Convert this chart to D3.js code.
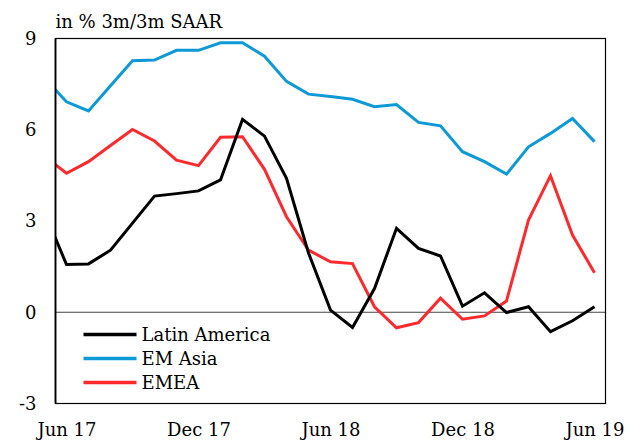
<!DOCTYPE html>
<html>
<head>
<meta charset="utf-8">
<script src="https://cdn.jsdelivr.net/npm/d3@7"></script>
<style>
  body { margin: 0; background: #fff; }
  svg text { font-family: 'DejaVu Serif', Georgia, serif; }
</style>
</head>
<body>
<div id="chart"></div>
<script>
// 月次データ (May 17 は左端で切れる分)
var months = ['May 17', 'Jun 17', 'Jul 17', 'Aug 17', 'Sep 17', 'Oct 17', 'Nov 17', 'Dec 17',
  'Jan 18', 'Feb 18', 'Mar 18', 'Apr 18', 'May 18', 'Jun 18', 'Jul 18', 'Aug 18', 'Sep 18',
  'Oct 18', 'Nov 18', 'Dec 18', 'Jan 19', 'Feb 19', 'Mar 19', 'Apr 19', 'May 19', 'Jun 19']

var latinAmerica = [3.29, 1.57, 1.59, 2.04, 2.93, 3.82, 3.9, 3.99, 4.35, 6.34, 5.79, 4.4, 1.95,
  0.07, -0.5, 0.78, 2.76, 2.1, 1.85, 0.2, 0.64, -0.01, 0.18, -0.64, -0.28, 0.18]
var emAsia = [7.7, 6.92, 6.62, 7.45, 8.27, 8.29, 8.61, 8.61, 8.86, 8.86, 8.42, 7.59, 7.17,
  7.09, 7.0, 6.76, 6.83, 6.24, 6.13, 5.28, 4.95, 4.54, 5.44, 5.88, 6.37, 5.61]
var emea = [5.13, 4.57, 4.95, 5.48, 6.01, 5.63, 5.0, 4.82, 5.75, 5.77, 4.7, 3.14, 2.04,
  1.66, 1.6, 0.18, -0.51, -0.34, 0.46, -0.23, -0.12, 0.37, 3.03, 4.49, 2.54, 1.3]

var seriesNames = ['Latin America', 'EM Asia', 'EMEA']
var seriesColors = ['#000000', '#0c9ad6', '#fc2a2d']
var yTicks = [-3, 0, 3, 6, 9]
var xTickLabels = ['Jun 17', 'Dec 17', 'Jun 18', 'Dec 18', 'Jun 19']
var titleText = 'in % 3m/3m SAAR'

var width = 634, height = 442
var margin = { top: 38.5, right: 28.5, bottom: 38.5, left: 55.5 }
var innerW = width - margin.left - margin.right
var innerH = height - margin.top - margin.bottom

var svg = d3.select('#chart')
  .append('svg')
  .attr('width', width)
  .attr('height', height)

var g = svg.append('g')
  .attr('transform', 'translate(' + margin.left + ',' + margin.top + ')')

// インデックス: Jun 17 = 1 ... Jun 19 = 25
var x = d3.scaleLinear()
  .domain([0.5, months.length - 0.5])
  .range([0, innerW])

var y = d3.scaleLinear()
  .domain([-3, 9])
  .range([innerH, 0])

svg.append('defs')
  .append('clipPath')
  .attr('id', 'plot-clip')
  .append('rect')
  .attr('width', innerW)
  .attr('height', innerH)

// zero line
g.append('line')
  .attr('x1', 0)
  .attr('x2', innerW)
  .attr('y1', y(0))
  .attr('y2', y(0))
  .attr('stroke', '#444')
  .attr('stroke-width', 1)

// lines
var line = d3.line()
  .x(function(d, i) { return x(i) })
  .y(function(d) { return y(d) })

var allSeries = [latinAmerica, emAsia, emea]

g.append('g')
  .attr('clip-path', 'url(#plot-clip)')
  .selectAll('path')
  .data([emea, emAsia, latinAmerica])
  .enter()
  .append('path')
  .attr('d', line)
  .attr('fill', 'none')
  .attr('stroke', function(d) { return seriesColors[allSeries.indexOf(d)] })
  .attr('stroke-width', 3)
  .attr('stroke-linejoin', 'miter')

// frame
g.append('rect')
  .attr('width', innerW)
  .attr('height', innerH)
  .attr('fill', 'none')
  .attr('stroke', '#000')
  .attr('stroke-width', 1.2)

g.append('line')
  .attr('x1', 0)
  .attr('x2', 0)
  .attr('y1', 0)
  .attr('y2', innerH)
  .attr('stroke', '#000')
  .attr('stroke-width', 1.8)

// y axis (ハイフンのマイナス)
var yAxis = g.append('g')
  .attr('font-family', null)
  .call(d3.axisLeft(y).tickValues(yTicks).tickSize(0).tickPadding(19).tickFormat(function(d) { return String(d) }))
yAxis.select('.domain').remove()
yAxis.selectAll('text')
  .attr('font-size', 18)
  .attr('fill', '#000')

// x axis
var xAxis = g.append('g')
  .attr('transform', 'translate(0,' + innerH + ')')
  .call(d3.axisBottom(x)
    .tickValues(xTickLabels.map(function(m) { return months.indexOf(m) }))
    .tickSize(0)
    .tickPadding(20)
    .tickFormat(function(i) { return months[i] }))
xAxis.select('.domain').remove()
xAxis.selectAll('text')
  .attr('font-size', 18)
  .attr('fill', '#000')

// title
svg.append('text')
  .attr('x', margin.left)
  .attr('y', 28)
  .attr('font-size', 18)
  .attr('fill', '#000')
  .text(titleText)

// legend
var legend = g.selectAll('.legend')
  .data(seriesNames)
  .enter()
  .append('g')
  .attr('class', 'legend')
  .attr('transform', function(d, i) { return 'translate(28,' + (296 + i * 24) + ')' })

legend.append('line')
  .attr('x1', 0)
  .attr('x2', 53)
  .attr('stroke', function(d, i) { return seriesColors[i] })
  .attr('stroke-width', 3.5)

legend.append('text')
  .attr('x', 58)
  .attr('y', 6.5)
  .attr('font-size', 18)
  .attr('fill', '#000')
  .text(function(d) { return d })
</script>
</body>
</html>
